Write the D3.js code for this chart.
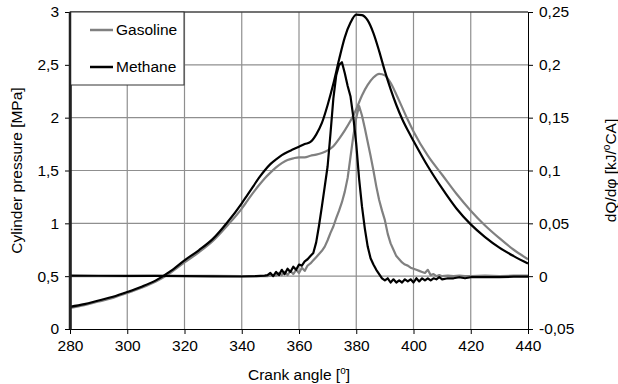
<!DOCTYPE html>
<html><head><meta charset="utf-8">
<script src="https://cdn.jsdelivr.net/npm/d3@7"></script>
<style>
html,body{margin:0;padding:0;background:#fff;}
svg{display:block;font-family:"Liberation Sans",Arial,sans-serif;}
</style></head>
<body><svg id="c" width="618" height="384"></svg>
<script>
// ---- data ----
const seriesNames = ["Gasoline", "Methane"];
const xTicks = [280, 300, 320, 340, 360, 380, 400, 420, 440];
const leftTicks = [0, 0.5, 1, 1.5, 2, 2.5, 3];
const leftTickLabels = ["0", "0,5", "1", "1,5", "2", "2,5", "3"];
const rightTicks = [-0.05, 0, 0.05, 0.1, 0.15, 0.2, 0.25];
const rightTickLabels = ["-0,05", "0", "0,05", "0,1", "0,15", "0,2", "0,25"];

const angleP = [280,285,290,295,300,305,310,315,320,325,330,335,340,
  342,344,346,348,350,352,354,356,358,360,362,364,366,368,370,372,374,376,378,380,
  382,384,386,388,390,392,394,396,398,400,405,410,415,420,425,430,435,440];
const methanePressure = [0.21,0.235,0.27,0.305,0.35,0.40,0.46,0.545,0.65,0.745,0.855,1.01,1.19,
  1.27,1.35,1.43,1.50,1.56,1.605,1.645,1.675,1.70,1.725,1.75,1.77,1.84,1.95,2.12,2.32,2.55,2.76,2.90,2.975,
  2.97,2.92,2.80,2.63,2.44,2.27,2.12,1.99,1.88,1.78,1.54,1.33,1.14,0.99,0.87,0.77,0.69,0.62];
const gasolinePressure = [0.20,0.225,0.26,0.295,0.34,0.39,0.45,0.53,0.63,0.725,0.835,0.98,1.14,
  1.215,1.29,1.36,1.425,1.48,1.53,1.57,1.60,1.615,1.625,1.625,1.64,1.65,1.665,1.69,1.73,1.80,1.88,1.97,2.08,
  2.21,2.31,2.38,2.415,2.40,2.33,2.22,2.10,1.98,1.87,1.64,1.46,1.28,1.12,0.98,0.86,0.75,0.66];

const angleQ = [280,290,300,310,320,330,340,345,348,
  349,350,351,352,353,354,355,356,357,358,359,360,361,362,363,364,365,366,367,368,369,370,
  371,372,373,374,375,376,377,378,379,380,381,382,383,384,385,386,387,388,389,390,
  391,392,393,394,395,396,397,398,399,400,401,402,403,404,405,406,407,408,409,410,
  412,414,416,418,420,425,430,435,440];
const methaneHRR = [0.0005,0.0004,0.0003,0.0002,0,-0.0002,-0.0003,0,0.0005,
  0.001,0.003,0,0.004,0.001,0.006,0.002,0.007,0.004,0.009,0.006,0.011,0.010,0.014,0.016,0.019,0.022,0.032,0.048,0.066,0.085,0.104,
  0.135,0.168,0.190,0.200,0.2025,0.192,0.180,0.170,0.150,0.125,0.092,0.066,0.045,0.028,0.017,0.011,0.006,0.002,-0.002,-0.004,
  -0.002,-0.006,-0.003,-0.006,-0.004,-0.006,-0.003,-0.005,-0.003,-0.006,-0.002,-0.005,-0.002,-0.004,-0.002,-0.004,-0.002,-0.003,-0.001,-0.003,
  -0.002,-0.002,-0.001,-0.002,-0.001,-0.001,-0.001,-0.0005,-0.0005];
const gasolineHRR = [0,0,0,0.0002,0.0003,0.0002,0,0,0,
  0,0.0005,0.001,0.0005,0.003,0.001,0.004,0.001,0.005,0.002,0.006,0.003,0.008,0.005,0.010,0.012,0.015,0.018,0.021,0.024,0.028,0.034,
  0.041,0.047,0.055,0.062,0.070,0.080,0.093,0.113,0.133,0.150,0.161,0.152,0.140,0.127,0.114,0.100,0.085,0.072,0.062,0.053,
  0.040,0.031,0.025,0.019,0.016,0.013,0.011,0.010,0.008,0.007,0.006,0.005,0.004,0.003,0.006,0.001,0.002,0,0.001,0,
  0.0005,0,0.0005,0,0,0.0005,0,0.0005,0.0005];

const colors = {Gasoline: "#808080", Methane: "#000000"};

// ---- chart ----
const svg = d3.select("#c");
const L = 70, R = 528, T = 12, B = 329;
const x = d3.scaleLinear().domain([280, 440]).range([L, R]);
const yL = d3.scaleLinear().domain([0, 3]).range([B, T]);
const yR = d3.scaleLinear().domain([-0.05, 0.25]).range([B, T]);
const fs = "15.5px";

// grid
const grid = svg.append("g").attr("stroke", "#8f8f8f").attr("stroke-width", 1.2);
grid.selectAll("line.h").data(leftTicks.filter(v => v > 0 && v < 3)).join("line")
  .attr("x1", L).attr("x2", R).attr("y1", d => yL(d)).attr("y2", d => yL(d));
grid.selectAll("line.v").data(xTicks.filter(v => v > 280 && v < 440)).join("line")
  .attr("y1", T).attr("y2", B).attr("x1", d => x(d)).attr("x2", d => x(d));

// lines
const lineP = d3.line().x(d => x(d[0])).y(d => yL(d[1])).curve(d3.curveMonotoneX);
const lineQ = d3.line().x(d => x(d[0])).y(d => yR(d[1]));
const pData = {Gasoline: angleP.map((a, i) => [a, gasolinePressure[i]]),
               Methane: angleP.map((a, i) => [a, methanePressure[i]])};
const qData = {Gasoline: angleQ.map((a, i) => [a, gasolineHRR[i]]),
               Methane: angleQ.map((a, i) => [a, methaneHRR[i]])};
seriesNames.forEach(s => {
  svg.append("path").attr("d", lineP(pData[s])).attr("fill", "none")
    .attr("stroke", colors[s]).attr("stroke-width", 2.2).attr("stroke-linejoin", "round");
  svg.append("path").attr("d", lineQ(qData[s])).attr("fill", "none")
    .attr("stroke", colors[s]).attr("stroke-width", 2.2).attr("stroke-linejoin", "round");
});

// frame
svg.append("line").attr("x1", L).attr("x2", R).attr("y1", T).attr("y2", T)
  .attr("stroke", "#444").attr("stroke-width", 1.5);

// axes
const ax = svg.append("g").attr("transform", `translate(0,${B})`)
  .call(d3.axisBottom(x).tickValues(xTicks).tickSize(5).tickSizeOuter(0).tickPadding(6));
const ayl = svg.append("g").attr("transform", `translate(${L},0)`)
  .call(d3.axisLeft(yL).tickValues(leftTicks).tickFormat((d, i) => leftTickLabels[i]).tickSize(5).tickSizeOuter(0).tickPadding(6));
const ayr = svg.append("g").attr("transform", `translate(${R},0)`)
  .call(d3.axisRight(yR).tickValues(rightTicks).tickFormat((d, i) => rightTickLabels[i]).tickSize(5).tickSizeOuter(0).tickPadding(6));
[ax, ayl, ayr].forEach(g => {
  g.selectAll("text").attr("font-size", fs).attr("fill", "#000").attr("font-family", '"Liberation Sans",Arial,sans-serif');
  g.selectAll("line,path").attr("stroke", "#000");
});
ayl.select("path.domain").attr("stroke-width", 2.5).attr("stroke", "#222");

// axis titles
const xt = svg.append("text").attr("x", (L + R) / 2).attr("y", 380).attr("text-anchor", "middle").attr("font-size", fs);
xt.append("tspan").text("Crank angle [");
xt.append("tspan").text("o").attr("font-size", "10px").attr("dy", -6);
xt.append("tspan").text("]").attr("dy", 6);

svg.append("text").attr("transform", `translate(22,${(T + B) / 2}) rotate(-90)`)
  .attr("text-anchor", "middle").attr("font-size", fs).text("Cylinder pressure [MPa]");

const rt = svg.append("text").attr("transform", `translate(616,${(T + B) / 2}) rotate(-90)`)
  .attr("text-anchor", "middle").attr("font-size", fs);
rt.append("tspan").text("dQ/dφ [kJ/");
rt.append("tspan").text("o").attr("font-size", "10px").attr("dy", -6);
rt.append("tspan").text("CA]").attr("dy", 6);

// legend
const lg = svg.append("g");
lg.append("rect").attr("x", L).attr("y", T).attr("width", 114).attr("height", 73)
  .attr("fill", "#fff").attr("stroke", "#333").attr("stroke-width", 1);
const legY = [30, 67];
seriesNames.forEach((s, i) => {
  lg.append("line").attr("x1", 90).attr("x2", 113).attr("y1", legY[i]).attr("y2", legY[i])
    .attr("stroke", colors[s]).attr("stroke-width", 2.5);
  lg.append("text").attr("x", 116).attr("y", legY[i]).attr("dy", "0.35em")
    .attr("font-size", fs).text(s);
});
svg.append("line").attr("x1", L).attr("x2", L).attr("y1", T).attr("y2", B)
  .attr("stroke", "#222").attr("stroke-width", 2.5);
</script></body></html>
